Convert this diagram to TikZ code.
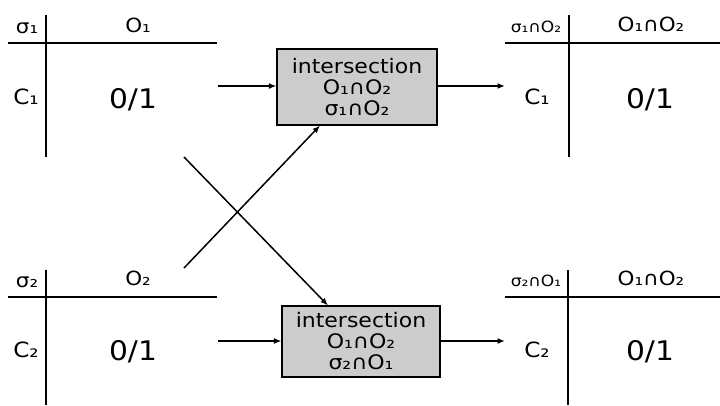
\documentclass[tikz,border=0pt]{standalone}
\usepackage{fontspec}
\setmainfont{DejaVu Sans}[FakeStretch=1.1]
\usetikzlibrary{arrows.meta}
\definecolor{boxgray}{RGB}{204,204,204}
\tikzset{
  rule/.style={line width=2pt},
  conn/.style={line width=1.5pt,-{Latex[length=7.5pt,width=6pt]}},
  hdr/.style={inner sep=0pt,font=\fontsize{19.5}{22}\selectfont},
  shdr/.style={inner sep=0pt,font=\fontsize{15.5}{17}\selectfont},
  rowlab/.style={inner sep=0pt,font=\fontsize{21}{22}\selectfont},
  val/.style={inner sep=0pt,font=\fontsize{27}{29}\selectfont},
  opbox/.style={draw,line width=1.1pt,fill=boxgray,inner sep=0pt,align=center,
    font=\fontsize{20}{21}\selectfont}
}
\begin{document}
\begin{tikzpicture}[x=1pt,y=-1pt]
\useasboundingbox (0,0) rectangle (720,405);
% top-left table
\draw[rule] (8,43) -- (217,43);
\draw[rule] (46,15) -- (46,157);
\node[hdr] (s1) at (27,28) {σ₁};
\node[hdr] (o1) at (138,25) {O₁};
\node[rowlab] (c1) at (26,97) {C₁};
\node[val] (v1) at (133,100) {0/1};
% bottom-left table
\draw[rule] (8,297) -- (217,297);
\draw[rule] (46,270) -- (46,405);
\node[hdr] (s2) at (27,282) {σ₂};
\node[hdr] (o2) at (138,278) {O₂};
\node[rowlab] (c2) at (26,350) {C₂};
\node[val] (v2) at (133,352) {0/1};
% top-right table
\draw[rule] (505,43) -- (720,43);
\draw[rule] (569,15) -- (569,157);
\node[shdr] (s1o2) at (536,27) {σ₁∩O₂};
\node[hdr] (o1o2a) at (651,24) {O₁∩O₂};
\node[rowlab] (c1r) at (537,97) {C₁};
\node[val] (v3) at (650,100) {0/1};
% bottom-right table
\draw[rule] (505,297) -- (720,297);
\draw[rule] (568,270) -- (568,405);
\node[shdr] (s2o1) at (536,281) {σ₂∩O₁};
\node[hdr] (o1o2b) at (651,278) {O₁∩O₂};
\node[rowlab] (c2r) at (537,350) {C₂};
\node[val] (v4) at (650,352) {0/1};
% boxes
\node[opbox,minimum width=160pt,minimum height=76pt] (box1) at (357,87)
  {intersection\\O₁∩O₂\\σ₁∩O₂};
\node[opbox,minimum width=158pt,minimum height=71pt] (box2) at (361,341.5)
  {intersection\\O₁∩O₂\\σ₂∩O₁};
% connector ends
\coordinate (a1) at (218,86);
\coordinate (a2) at (218,341);
\coordinate (b1) at (505,86);
\coordinate (b2) at (505,341);
\coordinate (d1) at (184,157);
\coordinate (d1e) at (328,305.5);
\coordinate (d2) at (184,268);
\coordinate (d2e) at (320,125.5);
\draw[conn] (a1) -- (box1.west |- a1);
\draw[conn] (a2) -- (box2.west |- a2);
\draw[conn] (box1.east |- b1) -- (b1);
\draw[conn] (box2.east |- b2) -- (b2);
\draw[conn] (d1) -- (d1e);
\draw[conn] (d2) -- (d2e);
\end{tikzpicture}
\end{document}
